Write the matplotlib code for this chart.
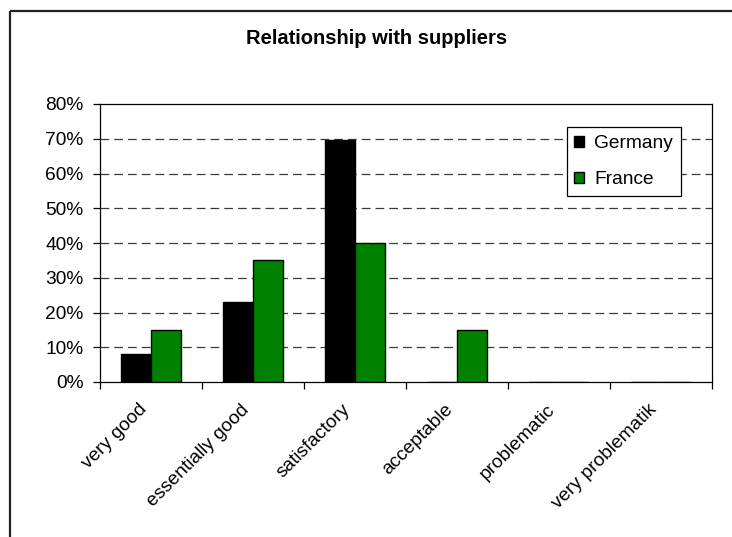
import numpy as np
import matplotlib
matplotlib.use("Agg")
import matplotlib.pyplot as plt
import matplotlib.transforms as mtransforms
from matplotlib.lines import Line2D

plt.rcParams['font.family'] = ['Liberation Sans', 'DejaVu Sans']

# Survey shares (%) per rating
categories = ["very good", "essentially good", "satisfactory",
              "acceptable", "problematic", "very problematik"]
germany = [8, 23, 69.6, 0, 0, 0]
france = [15, 35, 40, 15, 0, 0]
series_names = ["Germany", "France"]
y_ticks = [0, 10, 20, 30, 40, 50, 60, 70, 80]
y_tick_labels = [f"{v}%" for v in y_ticks]
title = "Relationship with suppliers"

W, H = 732, 537
FS = 13.8
fig = plt.figure(figsize=(W / 100, H / 100), dpi=100)
fig.patch.set_facecolor("white")

# chart-area border (left and top edges visible)
fig.add_artist(Line2D([9.5 / W, 9.5 / W], [0, 1 - 10.5 / H], transform=fig.transFigure,
                      color="#222222", lw=1.6, solid_capstyle="butt"))
fig.add_artist(Line2D([9.5 / W, 1], [1 - 10.5 / H, 1 - 10.5 / H], transform=fig.transFigure,
                      color="#222222", lw=1.6, solid_capstyle="butt"))

left, right, top, bottom = 100, 712, 104, 382
ax = fig.add_axes([left / W, 1 - bottom / H, (right - left) / W, (bottom - top) / H])

x = np.arange(len(categories))
bw = 0.29
ax.bar(x - bw / 2, germany, width=bw, color="#000000", edgecolor="#000000",
       linewidth=1.0, label=series_names[0], zorder=3)
ax.bar(x + bw / 2, france, width=bw, color="#008000", edgecolor="#000000",
       linewidth=1.0, label=series_names[1], zorder=3)

ax.set_xlim(-0.5, len(categories) - 0.5)
ax.set_ylim(0, 80)
ax.set_yticks(y_ticks)
ax.set_yticklabels(y_tick_labels, fontsize=FS)
ax.tick_params(axis="y", direction="out", length=5, width=0.9, pad=7, colors="black")

# tick marks at category boundaries, labels at category centres
ax.set_xticks(np.arange(len(categories) + 1) - 0.5)
ax.set_xticklabels([])
ax.tick_params(axis="x", which="major", direction="out", length=5, width=0.9)
ax.set_xticks(x, minor=True)
ax.set_xticklabels(categories, minor=True, fontsize=FS, rotation=45,
                   ha="right", va="top", rotation_mode="anchor")
ax.tick_params(axis="x", which="minor", length=0, pad=0)
offset = mtransforms.ScaledTranslation(-13 / 100, -19 / 100, fig.dpi_scale_trans)
for lbl in ax.get_xticklabels(minor=True):
    lbl.set_transform(lbl.get_transform() + offset)

for v in y_ticks[1:-1]:
    ax.axhline(v, color="#3a3a3a", lw=0.9, linestyle=(0, (7, 4)), zorder=1)

for s in ax.spines.values():
    s.set_color("black")
    s.set_linewidth(0.9)

fig.text(377 / W, 1 - 38 / H, title, ha="center", va="center",
         fontsize=14.5, fontweight="bold")

leg = ax.legend(loc="upper left", bbox_to_anchor=(566.7 / W, 1 - 127.3 / H),
                bbox_transform=fig.transFigure, borderaxespad=0, fontsize=FS,
                frameon=True, fancybox=False, shadow=False, handlelength=0.5,
                handleheight=0.5, handletextpad=0.55, borderpad=0.4,
                labelspacing=1.0)
leg.get_frame().set_edgecolor("black")
leg.get_frame().set_linewidth(0.9)
leg.get_frame().set_alpha(1)

fig.savefig("out.png", dpi=100)
